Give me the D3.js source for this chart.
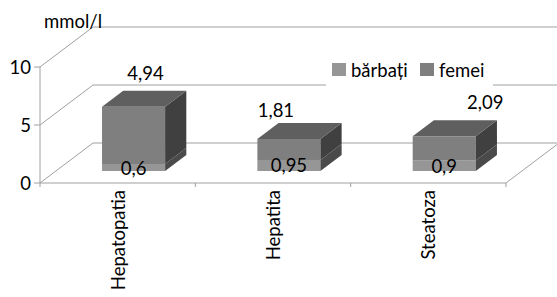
<!DOCTYPE html>
<html>
<head>
<meta charset="utf-8">
<script src="https://cdn.jsdelivr.net/npm/d3@7"></script>
<style>
body { margin: 0; background: #fff; }
text { font-family: Lato, sans-serif; fill: #000; }
</style>
</head>
<body>
<svg id="chart" width="557" height="297"></svg>
<script>
// data
const categories = ["Hepatopatia", "Hepatita", "Steatoza"];
const barbati = [0.6, 0.95, 0.9];
const femei = [4.94, 1.81, 2.09];
const seriesNames = ["bărbați", "femei"];
const yTicks = [0, 5, 10];
const unitLabel = "mmol/l";

const svg = d3.select("#chart");
const fmt = v => String(v).replace(".", ",");
const FS = 18.5;

// oblique 3d: depth d in [0,1] shifts right and up
const DX = 53, DY = -40;
const x = d3.scaleBand().domain(categories).range([40, 506]);
const y = d3.scaleLinear().domain([0, 10]).range([183, 67]);
const proj = (px, v, d) => [px + DX * d, y(v) + DY * d];

const gridColor = "#a0a0a0";
const frontCol = ["#969696", "#7f7f7f"];
const sideCol = ["#4a4a4a", "#404040"];
const topCol = "#5f5f5f";

const walls = svg.append("g").attr("stroke", gridColor).attr("fill", "none");

// back wall gridlines + left wall diagonals
yTicks.forEach(t => {
    const a = proj(40, t, 0), b = proj(40, t, 1);
    walls.append("polyline")
        .attr("points", [a, b, [570, b[1]]].map(p => p.join(",")).join(" "));
});
// floor front + right edge
const fr = proj(506, 0, 0), br = proj(506, 0, 1);
walls.append("polyline")
    .attr("points", [[40, y(0)], fr, br].map(p => p.join(",")).join(" "));
// y axis
walls.append("line").attr("x1", 40).attr("x2", 40).attr("y1", y(0)).attr("y2", y(10));
yTicks.forEach(t => {
    walls.append("line").attr("x1", 34).attr("x2", 40).attr("y1", y(t)).attr("y2", y(t));
});
// x ticks at category edges
categories.concat([null]).forEach(c => {
    const px = c ? x(c) : 506;
    walls.append("line").attr("x1", px).attr("x2", px).attr("y1", y(0)).attr("y2", y(0) + 4);
});

// y tick labels
svg.append("g").selectAll("text").data(yTicks).join("text")
    .attr("x", 31).attr("y", d => y(d))
    .attr("text-anchor", "end").attr("dominant-baseline", "central")
    .attr("font-size", FS)
    .text(d => d);

svg.append("text").attr("x", 44).attr("y", 28).attr("font-size", FS).text(unitLabel);

// legend (white box hides the gridline behind)
const leg = svg.append("g");
leg.append("rect").attr("x", 326).attr("y", 55).attr("width", 167).attr("height", 33).attr("fill", "#fff");
const legX = [332, 420];
seriesNames.forEach((s, i) => {
    leg.append("rect").attr("x", legX[i]).attr("y", 63).attr("width", 14).attr("height", 13)
        .attr("fill", frontCol[i]);
    leg.append("text").attr("x", legX[i] + 19).attr("y", 76.5).attr("font-size", FS).text(s);
});

// bars
const d0 = 0.3, d1 = 0.7;
const bw = x.bandwidth();
const pts = arr => arr.map(p => p.join(",")).join(" ");
const bars = svg.append("g");
categories.forEach((c, i) => {
    const x0 = x(c) + bw * 0.297, x1 = x0 + bw * 0.406;
    const segs = [[0, barbati[i]], [barbati[i], barbati[i] + femei[i]]];
    segs.forEach(([lo, hi], k) => {
        const fl = proj(x0, lo, d0), fh = proj(x1, hi, d0);
        bars.append("rect")
            .attr("x", fl[0]).attr("y", fh[1])
            .attr("width", fh[0] - fl[0]).attr("height", fl[1] - fh[1])
            .attr("fill", frontCol[k]);
        bars.append("polygon")
            .attr("points", pts([proj(x1, lo, d0), proj(x1, hi, d0), proj(x1, hi, d1), proj(x1, lo, d1)]))
            .attr("fill", sideCol[k]);
    });
    const top = barbati[i] + femei[i];
    bars.append("polygon")
        .attr("points", pts([proj(x0, top, d0), proj(x1, top, d0), proj(x1, top, d1), proj(x0, top, d1)]))
        .attr("fill", topCol);
});

// value labels: barbati centred in its segment, femei floated above the bar
const labelNudge = [[12, -34], [-13, -29], [41, -34]];
const lab = svg.append("g").attr("font-size", FS).attr("text-anchor", "middle")
    .attr("dominant-baseline", "central");
categories.forEach((c, i) => {
    const cx = x(c) + bw * 0.5 + DX * d0;
    lab.append("text").attr("x", cx).attr("y", (y(0) + y(barbati[i])) / 2 + DY * d0)
        .text(fmt(barbati[i]));
    const ty = y(barbati[i] + femei[i]) + DY * d0;
    lab.append("text").attr("x", cx + labelNudge[i][0]).attr("y", ty + labelNudge[i][1])
        .text(fmt(femei[i]));
});

// category labels, rotated
svg.append("g").selectAll("text").data(categories).join("text")
    .attr("transform", d => `translate(${x(d) + bw / 2},190) rotate(-90)`)
    .attr("text-anchor", "end").attr("dominant-baseline", "central")
    .attr("font-size", FS)
    .text(d => d);
</script>
</body>
</html>
